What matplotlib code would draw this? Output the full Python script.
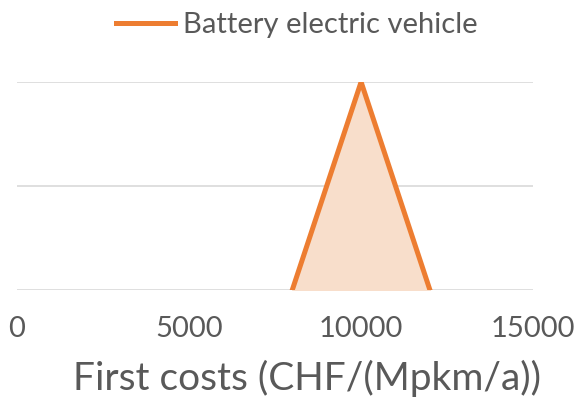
import matplotlib
matplotlib.use("Agg")
import matplotlib.pyplot as plt

# data
costs = [8000, 10000, 12000]
density = [0, 2, 0]
series_name = 'Battery electric vehicle'
x_ticks = [0, 5000, 10000, 15000]

orange = '#ED7D31'
grey_text = '#595959'

plt.rcParams['font.family'] = ['Lato', 'DejaVu Sans']

fig = plt.figure(figsize=(5.78, 4.05), dpi=100)
ax = fig.add_axes([0.0294, 0.284, 0.893, 0.5136])

ax.fill_between(costs, density, color='#F8DECB', zorder=2)
ax.plot(costs, density, color=orange, lw=3.6, label=series_name,
        solid_joinstyle='miter', zorder=3)

ax.set_xlim(0, 15000)
ax.set_ylim(0, 2)
ax.set_xticks(x_ticks)
ax.set_yticks([0, 1, 2])
ax.set_yticklabels([])
ax.grid(axis='y', color='#D9D9D9', lw=1.2, zorder=1)
ax.tick_params(axis='both', length=0, labelsize=21, labelcolor=grey_text, pad=19)
for s in ax.spines.values():
    s.set_visible(False)

ax.set_xlabel('First costs (CHF/(Mpkm/a))', fontsize=28, color=grey_text)
ax.xaxis.set_label_coords(0.562, -0.335)

ax.legend(loc='center', bbox_to_anchor=(0.543, 1.275), frameon=False, fontsize=21,
          labelcolor=grey_text, handlelength=2.0, handletextpad=0.3)

fig.savefig('out.png', dpi=100)
